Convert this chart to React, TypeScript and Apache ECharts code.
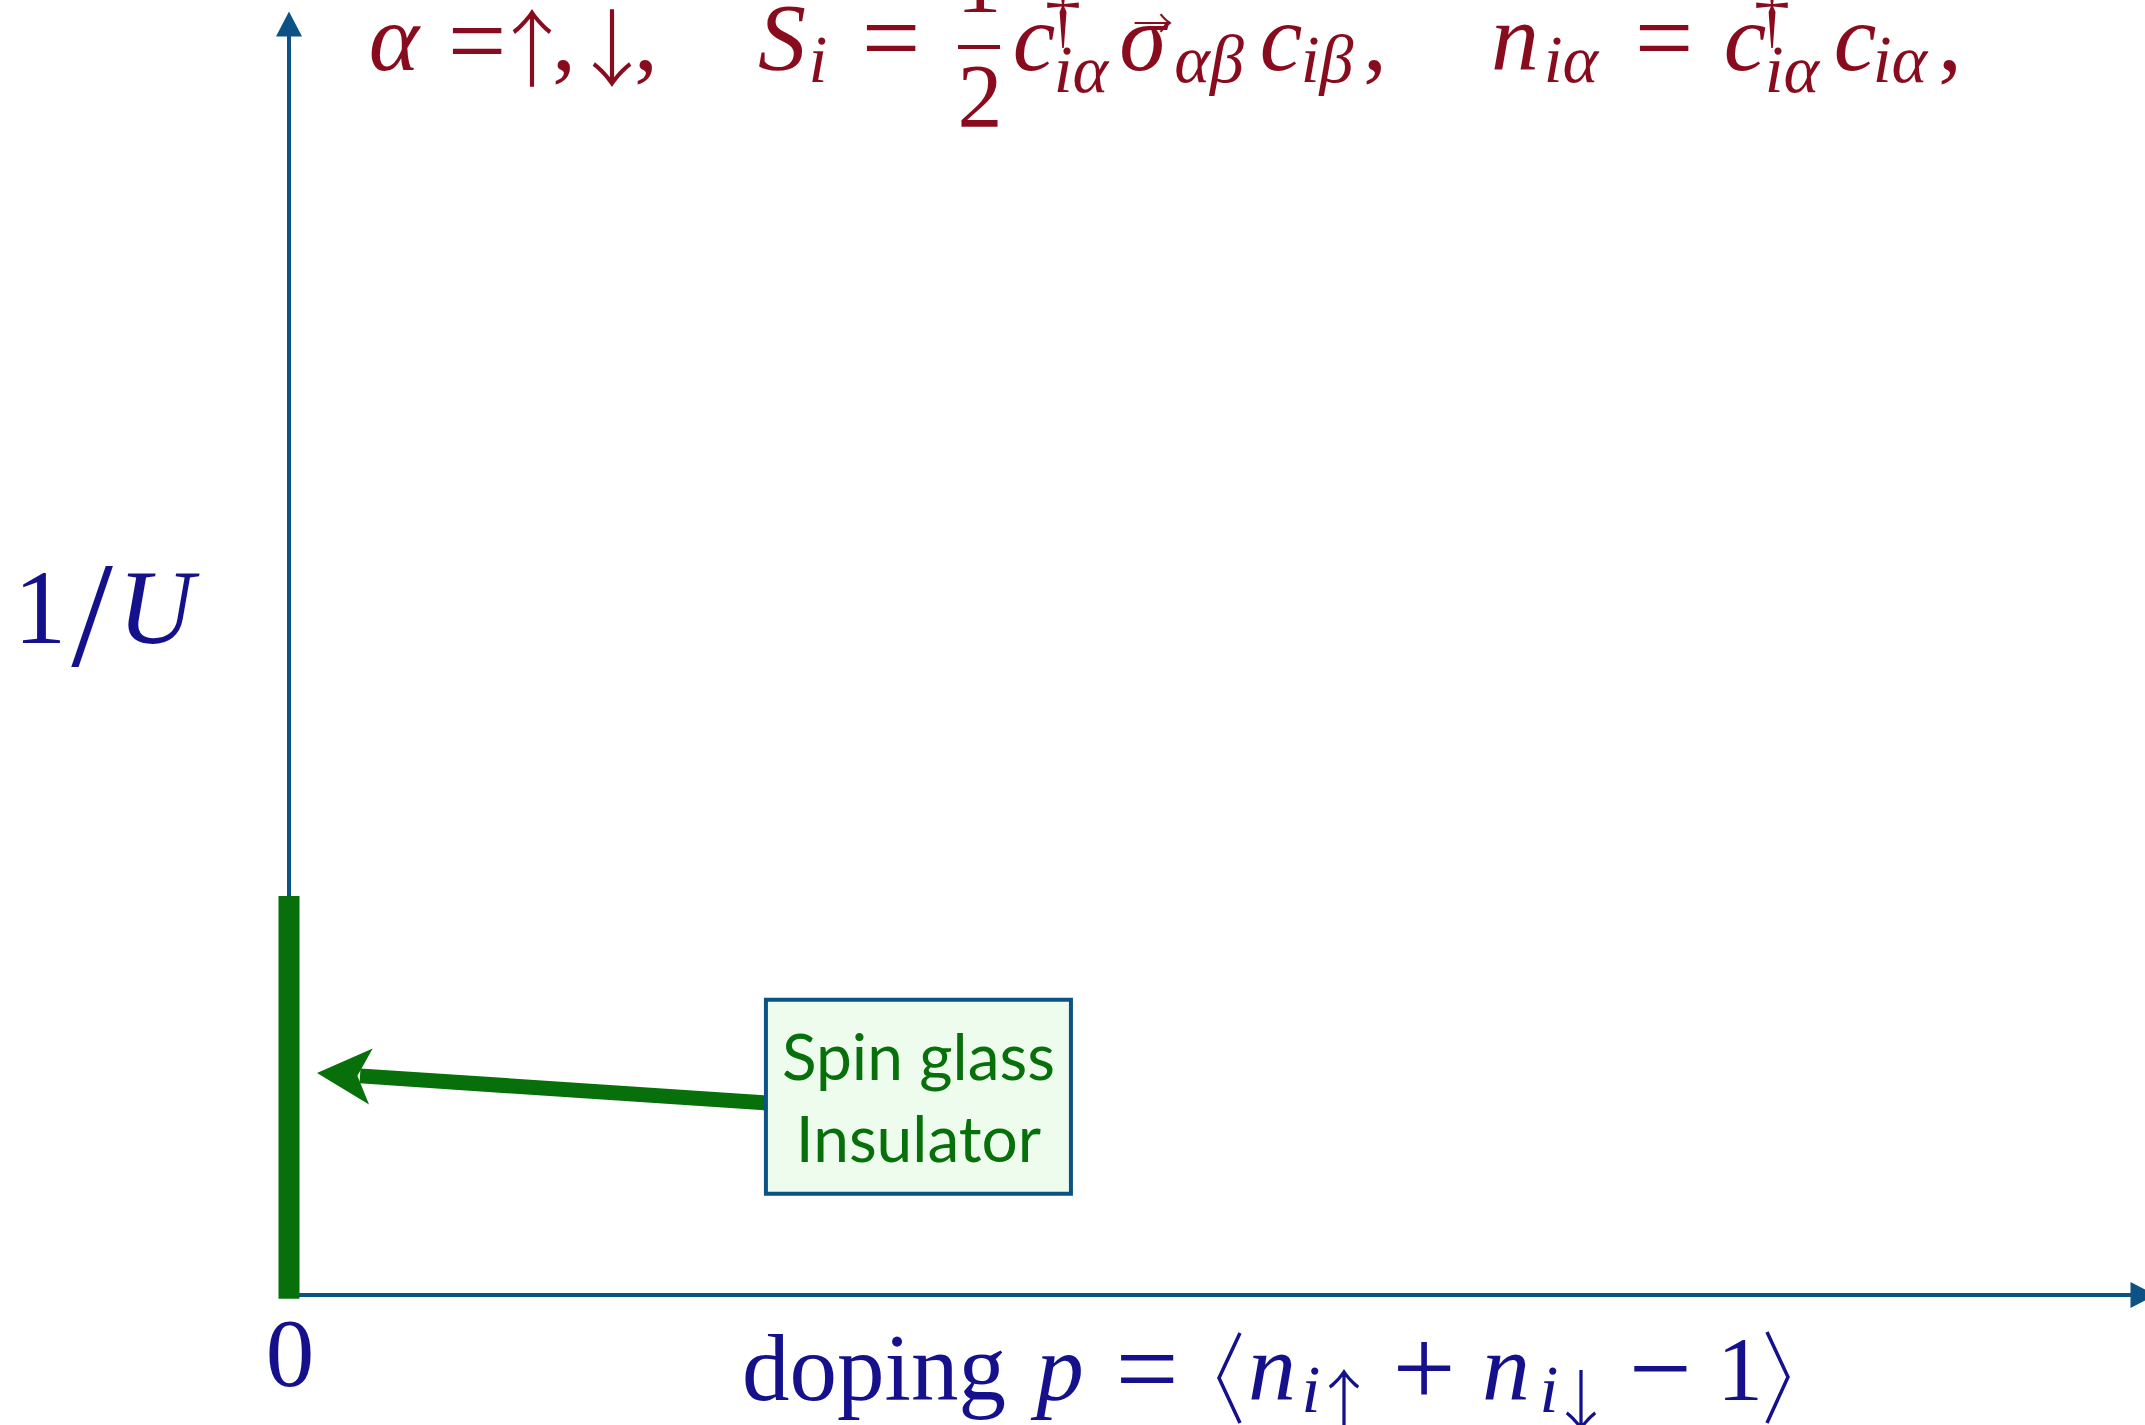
import React, { useEffect, useRef } from 'react';
import * as echarts from 'echarts';

// ---------- data ----------
const xRange: [number, number] = [0, 1];
const yRange: [number, number] = [0, 1];
// spin glass insulator phase: the p = 0 segment of the 1/U axis
const spinGlassSegment: [number, number][] = [[0, -0.003], [0, 0.314]];
// annotation arrow: shaft from the label box towards the phase segment
const arrowShaft: [number, number][] = [[0.2573, 0.1511], [0.0383, 0.1724]];
// arrow head tip and its angle (degrees, counter-clockwise from "up")
const arrowHead: [number, number] = [0.0151, 0.1747];
const arrowHeadAngle = 86.2;
// label box anchor
const boxAnchor: [number, number] = [0.3395, 0.156];
const boxLines: string[] = ['Spin glass', 'Insulator'];
const originTick: string[] = ['0'];

// ---------- style ----------
const AXIS = '#0c5285';
const GREEN = '#07700a';
const RED = '#890c1e';
const NAVY = '#15118c';
const SERIF = '"Liberation Serif", "DejaVu Serif", serif';
const SYMBOL_FONT = '"Noto Sans CJK JP", "Noto Sans CJK SC", sans-serif';

type Piece = [string, number, number, number, boolean];
type Sym = [string, number, number, number];

// text pieces of the formulas: [text, centre x, baseline y, font size, italic]
const topPieces: Piece[] = [
  ['α', 394, 70, 96, true],
  ['=', 477, 76, 104, false],
  [',', 564, 70, 96, false],
  [',', 646, 70, 96, false],
  ['S', 782, 70, 96, true],
  ['i', 818, 82, 68, true],
  ['=', 891, 73, 104, false],
  ['1', 979, 12, 90, false],
  ['2', 980, 127, 90, false],
  ['c', 1034, 70, 96, true],
  ['†', 1063, 40, 72, false],
  ['iα', 1081, 92, 68, true],
  ['σ', 1143, 70, 96, true],
  ['αβ', 1209, 82, 68, true],
  ['c', 1281, 70, 96, true],
  ['iβ', 1327, 82, 68, true],
  [',', 1375, 70, 96, false],
  ['n', 1515, 70, 96, true],
  ['iα', 1571, 82, 68, true],
  ['=', 1664, 73, 104, false],
  ['c', 1745, 70, 96, true],
  ['†', 1772, 40, 72, false],
  ['iα', 1792, 92, 68, true],
  ['c', 1855, 70, 96, true],
  ['iα', 1900, 82, 68, true],
  [',', 1950, 70, 96, false],
];
// arrow glyphs: [text, centre x, centre y, font size]
const topSymbols: Sym[] = [
  ['↑', 532, 43, 84],
  ['↓', 612, 43, 84],
  ['→', 1153, 21, 40],
];

const bottomPieces: Piece[] = [
  ['doping', 874, 1400, 95, false],
  ['p', 1060, 1400, 95, true],
  ['=', 1147, 1406, 112, false],
  ['n', 1272, 1400, 96, true],
  ['i', 1311, 1412, 68, true],
  ['+', 1424, 1406, 112, false],
  ['n', 1506, 1400, 96, true],
  ['i', 1549, 1412, 68, true],
  ['−', 1660, 1406, 112, false],
  ['1', 1740, 1400, 92, false],
];
const bottomSymbols: Sym[] = [
  ['↑', 1344, 1396, 66],
  ['↓', 1581, 1396, 66],
];

const leftPieces: Piece[] = [
  ['1', 40, 643, 105, false],
  ['/', 92, 666, 150, false],
  ['U', 156, 643, 105, true],
];

function textEl(p: Piece, color: string) {
  const [t, cx, base, fs, it] = p;
  return {
    type: 'text',
    silent: true,
    x: cx,
    y: base - 0.34 * fs,
    z: 100,
    style: {
      text: t,
      fill: color,
      fontFamily: SERIF,
      fontSize: fs,
      fontStyle: it ? 'italic' : 'normal',
      align: 'center',
      verticalAlign: 'middle',
      textAlign: 'center',
      textVerticalAlign: 'middle',
    },
  };
}

function symEl(s: Sym, color: string) {
  const [t, cx, cy, fs] = s;
  return {
    type: 'text',
    silent: true,
    x: cx,
    y: cy,
    z: 100,
    style: {
      text: t,
      fill: color,
      fontFamily: SYMBOL_FONT,
      fontSize: fs,
      fontWeight: 300,
      align: 'center',
      verticalAlign: 'middle',
      textAlign: 'center',
      textVerticalAlign: 'middle',
    },
  };
}

export default function App() {
  const ref = useRef<HTMLDivElement>(null);

  useEffect(() => {
    if (!ref.current) return;
    const chart = echarts.init(ref.current, undefined, { renderer: 'svg' });

    const axisCommon = {
      type: 'value',
      axisLine: {
        show: true,
        onZero: false,
        symbol: ['none', 'triangle'],
        symbolSize: [26, 25],
        lineStyle: { color: AXIS, width: 4 },
      },
      axisTick: { show: false },
      axisLabel: { show: false },
      splitLine: { show: false },
    };

    const graphicElements: any[] = [
      ...topPieces.map((p) => textEl(p, RED)),
      ...topSymbols.map((s) => symEl(s, RED)),
      ...bottomPieces.map((p) => textEl(p, NAVY)),
      ...bottomSymbols.map((s) => symEl(s, NAVY)),
      ...leftPieces.map((p) => textEl(p, NAVY)),
      textEl([originTick[0], 290, 1386, 97, false], NAVY),
      {
        type: 'line',
        silent: true,
        z: 100,
        shape: { x1: 958, y1: 47, x2: 1000, y2: 47 },
        style: { stroke: RED, lineWidth: 4 },
      },
      {
        type: 'polyline',
        silent: true,
        z: 100,
        shape: { points: [[1240, 1333], [1219, 1378], [1240, 1423]] },
        style: { stroke: NAVY, lineWidth: 3.5, fill: null },
      },
      {
        type: 'polyline',
        silent: true,
        z: 100,
        shape: { points: [[1767, 1332], [1788, 1377], [1767, 1423]] },
        style: { stroke: NAVY, lineWidth: 3.5, fill: null },
      },
    ];

    chart.setOption({
      animation: false,
      backgroundColor: '#ffffff',
      grid: { left: 289, right: 2, top: 24, bottom: 130, containLabel: false },
      xAxis: { ...axisCommon, min: xRange[0], max: xRange[1] },
      yAxis: { ...axisCommon, min: yRange[0], max: yRange[1] },
      series: [
        {
          type: 'line',
          silent: true,
          data: spinGlassSegment,
          symbol: 'none',
          clip: false,
          z: 5,
          lineStyle: { color: GREEN, width: 21, cap: 'butt' },
        },
        {
          type: 'lines',
          coordinateSystem: 'cartesian2d',
          silent: true,
          z: 5,
          symbol: ['none', 'none'],
          lineStyle: { color: GREEN, width: 15, opacity: 1, curveness: 0 },
          data: [{ coords: arrowShaft }],
        },
        {
          type: 'scatter',
          silent: true,
          z: 5,
          data: [arrowHead],
          symbol: 'arrow',
          symbolSize: [42, 54],
          symbolRotate: arrowHeadAngle,
          itemStyle: { color: GREEN, opacity: 1 },
        },
        {
          type: 'scatter',
          silent: true,
          z: 6,
          data: [boxAnchor],
          symbolSize: 1,
          itemStyle: { color: 'transparent', opacity: 1 },
          label: {
            show: true,
            position: 'inside',
            formatter: boxLines.join('\n'),
            color: GREEN,
            fontFamily: 'Lato',
            fontSize: 64,
            lineHeight: 82,
            backgroundColor: '#eefcee',
            borderColor: AXIS,
            borderWidth: 4,
            width: 301,
            align: 'center',
            padding: [23, 0, 3, 0],
          },
        },
      ],
      graphic: { elements: graphicElements },
    });

    return () => chart.dispose();
  }, []);

  return (
    <div
      ref={ref}
      style={{ position: 'absolute', left: 0, top: 0, width: 2145, height: 1425 }}
    />
  );
}
